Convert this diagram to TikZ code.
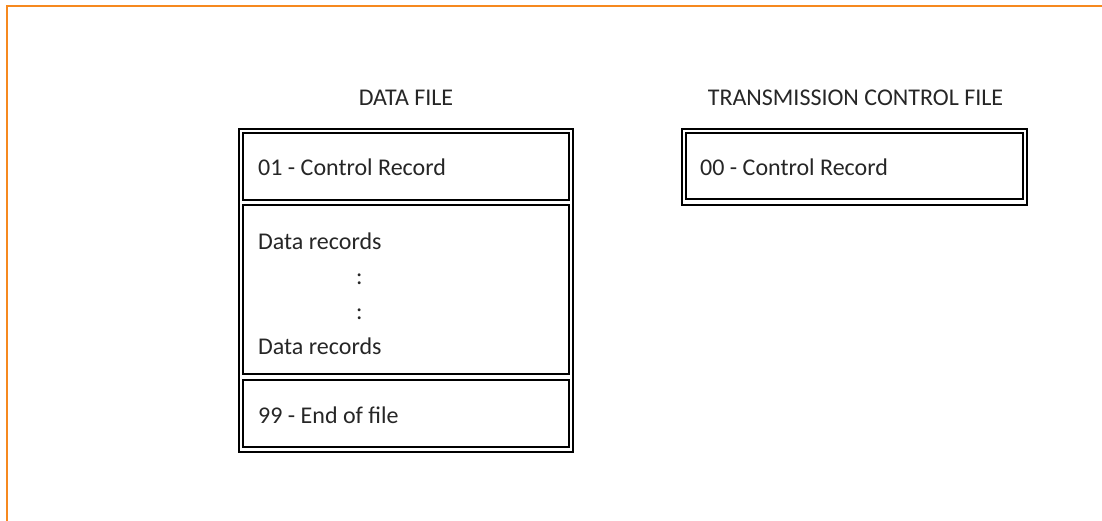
\documentclass[tikz,border=0pt]{standalone}
\usepackage{fontspec}
\setmainfont{Carlito}
\definecolor{frameorange}{RGB}{246,137,31}
\definecolor{ink}{RGB}{38,38,38}
\begin{document}
\begin{tikzpicture}[x=1bp,y=-1bp,
  rule/.style={draw=black, line width=2.5bp, inner sep=0pt, outer sep=0pt},
  lbl/.style={text=ink, inner sep=0pt, font=\fontsize{24bp}{29bp}\selectfont, anchor=base west},
  heading/.style={text=ink, inner sep=0pt, font=\fontsize{24bp}{29bp}\selectfont, anchor=base}]
\useasboundingbox (0,0) rectangle (1102,521);

% page frame (top and left edges)
\draw[frameorange, line width=2.5bp] (7,521) -- (7,6) -- (1102,6);

% headings
\node[heading] (dftitle) at (406,106) {DATA FILE};
\node[heading] (tcftitle) at (855.5,106) {TRANSMISSION CONTROL FILE};

% data file: outer frame and its three record sections
\node[rule, minimum width=334bp, minimum height=323bp] (dataouter) at (406,290.5) {};
\node[rule, minimum width=326bp, minimum height=67bp] (ctlrec) at (406,166.5) {};
\node[rule, minimum width=326bp, minimum height=169bp] (datarecs) at (406,289.5) {};
\node[rule, minimum width=326bp, minimum height=67bp] (eofrec) at (406,413.5) {};

\node[lbl] (ctltext) at (258,176) {01 - Control Record};
\node[lbl] (datafirst) at (258,250) {Data records};
\node[lbl] (dotsa) at (356,285) {:};
\node[lbl] (dotsb) at (356,320) {:};
\node[lbl] (datalast) at (258,355) {Data records};
\node[lbl] (eoftext) at (258,423) {99 - End of file};

% transmission control file
\node[rule, minimum width=345bp, minimum height=76bp] (tcfouter) at (854.5,167) {};
\node[rule, minimum width=337bp, minimum height=66bp] (tcfinner) at (854.5,166) {};
\node[lbl] (tcftext) at (700,176) {00 - Control Record};
\end{tikzpicture}
\end{document}
